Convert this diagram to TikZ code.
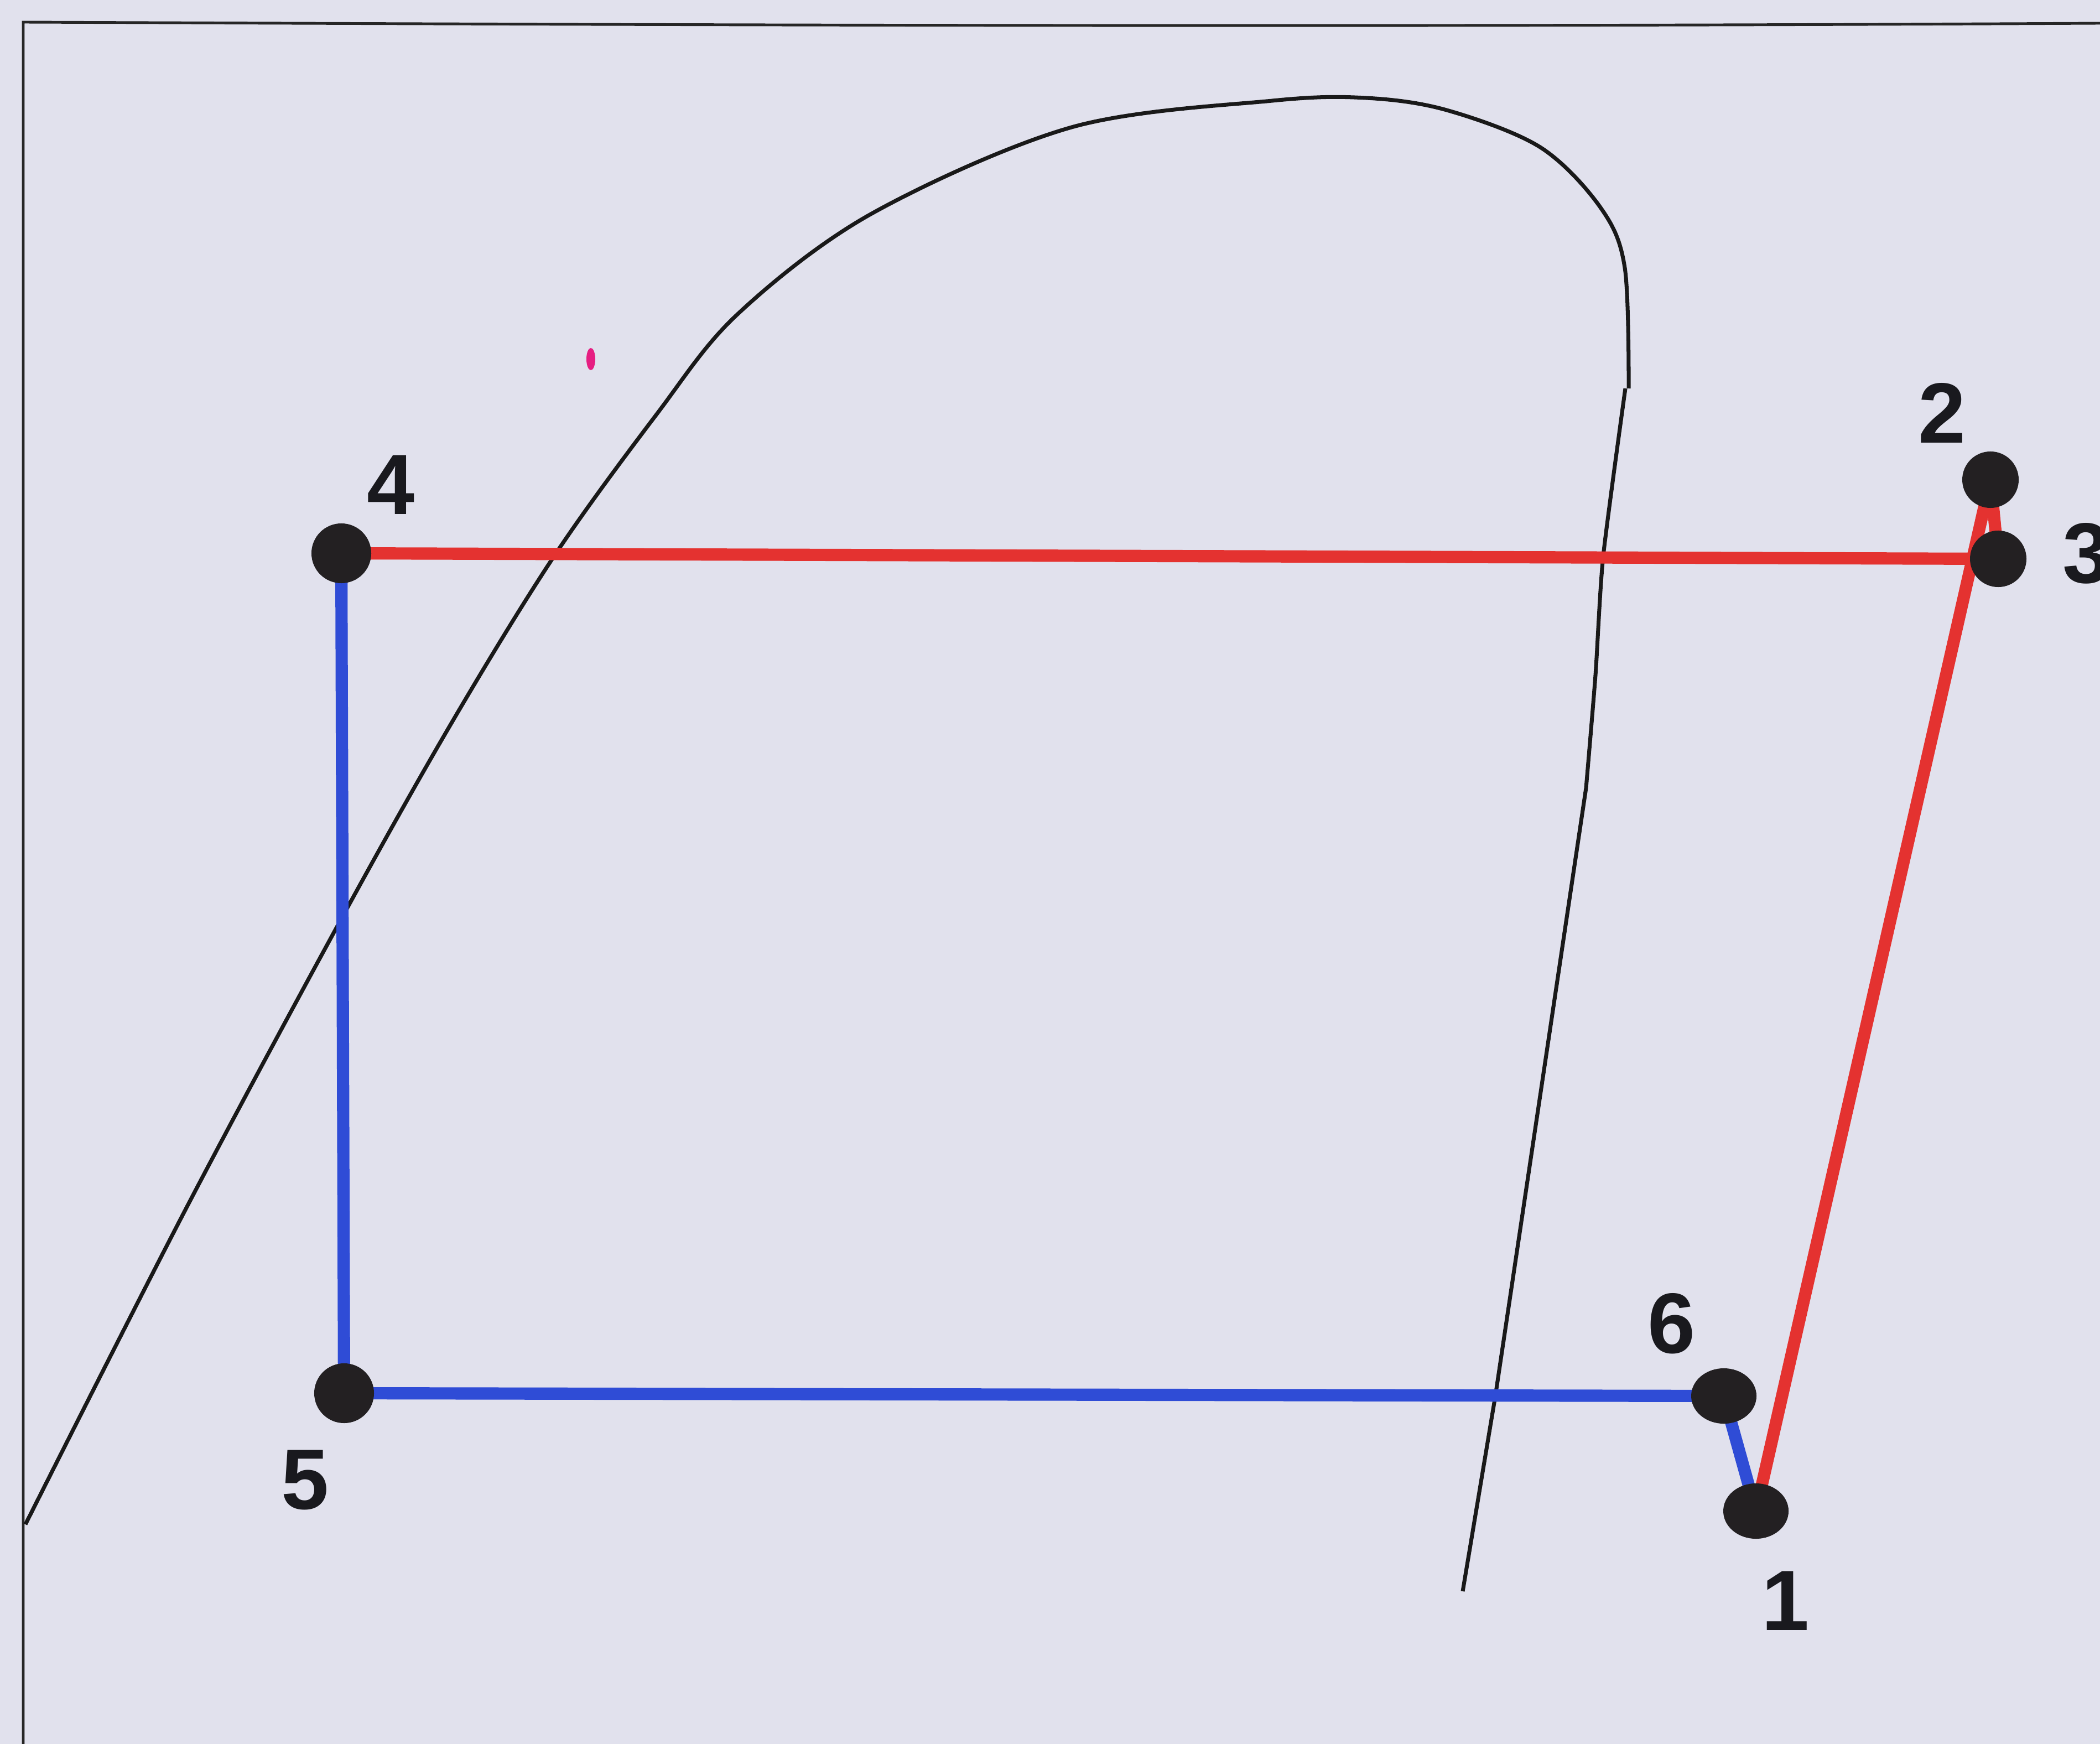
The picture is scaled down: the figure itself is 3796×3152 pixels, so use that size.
\documentclass[tikz,border=0pt]{standalone}
\usepackage{fontspec}
\setmainfont{Liberation Sans}
\usetikzlibrary{shapes.geometric}
\definecolor{bg}{RGB}{225,225,237}
\definecolor{cycred}{RGB}{228,50,48}
\definecolor{cycblue}{RGB}{47,76,214}
\definecolor{dotblack}{RGB}{35,32,34}
\definecolor{lblcol}{RGB}{25,25,30}
\definecolor{pinkmark}{RGB}{230,30,130}
\begin{document}
\begin{tikzpicture}[x=0.01cm,y=-0.01cm,
  redline/.style={draw=cycred,line width=6.3pt},
  blueline/.style={draw=cycblue,line width=6.3pt},
  dot/.style={circle,fill=dotblack,minimum size=1.08cm,inner sep=0pt},
  edot/.style={ellipse,fill=dotblack,minimum width=1.18cm,minimum height=1.0cm,inner sep=0pt},
  lbl/.style={font=\fontsize{44}{44}\selectfont\bfseries,text=lblcol,inner sep=0pt},
  dome/.style={draw=black!90,line width=2pt,line join=round},
  frame/.style={draw=black!85,line width=1.4pt}]
\path[fill=bg,use as bounding box] (0,0) rectangle (3796,3152);
% frame
\draw[frame] (42,3152) -- (42,40) .. controls (1200,45) and (2400,50) .. (3796,42);
% saturation dome
\draw[dome] plot[smooth,tension=0.55] coordinates {(46,2755) (339,2179) (625,1646) (823,1295) (1005,1000) (1186,750) (1332,569) (1574,387) (1937,230) (2300,182) (2469,177) (2615,199) (2784,266) (2893,375) (2937,484) (2944,702)};
\draw[dome] plot[smooth,tension=0.4] coordinates {(2938,702) (2898,1005) (2884,1220) (2867,1424)} -- (2703,2523) -- (2644,2876);
% pink mark
\fill[pinkmark] (1068,649) ellipse [x radius=0.08cm, y radius=0.2cm];
% state points
\coordinate (p1) at (3174,2731);
\coordinate (p2) at (3598,867);
\coordinate (p3) at (3612,1010);
\coordinate (p4) at (617,1000);
\coordinate (p5) at (622,2518);
\coordinate (p6) at (3116,2523);
% cycle lines
\draw[redline] (p1) -- (p2);
\draw[redline] (p2) -- (p3);
\draw[redline] (p3) -- (p4);
\draw[blueline] (p4) -- (p5);
\draw[blueline] (p5) -- (p6);
\draw[blueline] (p6) -- (p1);
% dots
\node[edot] (d1) at (p1) {};
\node[dot,minimum size=1.02cm] (d2) at (p2) {};
\node[dot,minimum size=1.02cm] (d3) at (p3) {};
\node[dot] (d4) at (p4) {};
\node[dot] (d5) at (p5) {};
\node[edot] (d6) at (p6) {};
% labels
\node[lbl] (l1) at (3227,2893) {1};
\node[lbl] (l2) at (3510,746) {2};
\node[lbl,anchor=west] (l3) at (3728,1000) {3};
\node[lbl] (l4) at (707,876) {4};
\node[lbl] (l5) at (552,2675) {5};
\node[lbl] (l6) at (3021,2392) {6};
\end{tikzpicture}
\end{document}
